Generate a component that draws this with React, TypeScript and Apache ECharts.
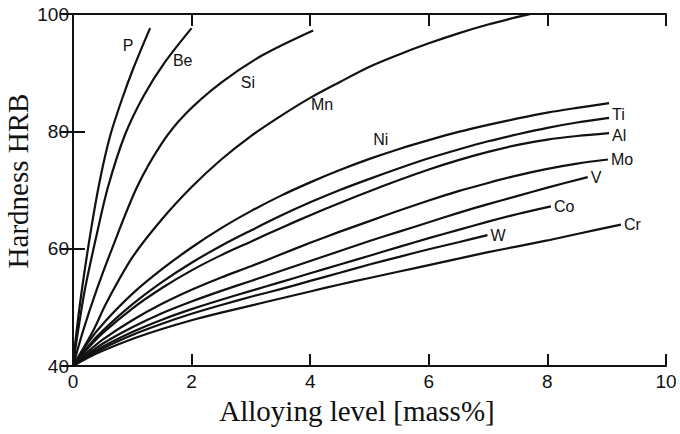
import React, { useEffect, useRef } from "react";
import * as echarts from "echarts";

const xTicks = [0, 2, 4, 6, 8, 10];
const yTicks = [40, 60, 80, 100];

const P = [[0, 40], [0.05, 45], [0.15, 53], [0.3, 63], [0.45, 71.5], [0.62, 79], [0.82, 85.3], [1.02, 90.8], [1.3, 97.6]];
const Be = [[0, 40], [0.07, 45], [0.2, 53], [0.38, 61.5], [0.59, 70.5], [0.88, 79.5], [1.2, 86.2], [1.55, 91.8], [2.0, 97.6]];
const Si = [[0, 40], [0.17, 46], [0.4, 53], [0.65, 59.8], [1.08, 70.5], [1.5, 78], [1.9, 83], [2.5, 88.3], [3.2, 93], [4.05, 97.2]];
const Mn = [[0, 40], [0.34, 46], [0.56, 50.7], [1.0, 58.5], [1.5, 65], [2.0, 70.5], [2.5, 75.2], [3.0, 79.2], [3.5, 82.6], [4.0, 85.7], [4.5, 88.4], [5.0, 91], [5.5, 93.1], [6.0, 95], [6.5, 96.7], [7.0, 98.2], [7.5, 99.5], [7.72, 100]];
const Ni = [[0, 40], [0.25, 44], [0.56, 47.8], [1.0, 52.3], [1.5, 56.5], [2.0, 60.2], [2.5, 63.5], [3.0, 66.4], [3.5, 69], [4.0, 71.3], [4.5, 73.4], [5.0, 75.3], [5.5, 77], [6.0, 78.5], [6.5, 79.9], [7.0, 81.1], [7.5, 82.2], [8.0, 83.2], [8.5, 84], [9.04, 84.8]];
const Ti = [[0, 40], [0.25, 43.3], [0.5, 46], [1.0, 50.5], [1.5, 54.3], [2.0, 57.6], [2.5, 60.5], [3.0, 63.1], [3.5, 65.6], [4.0, 67.9], [4.5, 70], [5.0, 71.9], [5.5, 73.7], [6.0, 75.4], [6.5, 76.9], [7.0, 78.3], [7.5, 79.5], [8.0, 80.6], [8.5, 81.5], [9.04, 82.3]];
const Al = [[0, 40], [0.25, 43], [0.5, 45.6], [1.0, 49.8], [1.5, 53.3], [2.0, 56.3], [2.5, 58.9], [3.0, 61.2], [3.5, 63.5], [4.0, 65.7], [4.5, 67.8], [5.0, 69.8], [5.5, 71.7], [6.0, 73.5], [6.5, 75.1], [7.0, 76.5], [7.5, 77.7], [8.0, 78.6], [8.5, 79.2], [9.04, 79.7]];
const Mo = [[0, 40], [0.25, 42.4], [0.5, 44.5], [1.0, 47.8], [1.5, 50.6], [2.0, 53], [2.5, 55.1], [3.0, 57], [3.5, 59], [4.0, 61], [4.5, 62.9], [5.0, 64.7], [5.5, 66.5], [6.0, 68.2], [6.5, 69.8], [7.0, 71.2], [7.5, 72.5], [8.0, 73.6], [8.5, 74.5], [9.02, 75.2]];
const V = [[0, 40], [0.25, 42], [0.5, 43.8], [1.0, 46.6], [1.5, 49], [2.0, 51], [2.5, 52.8], [3.0, 54.5], [3.5, 56.2], [4.0, 57.9], [4.5, 59.6], [5.0, 61.3], [5.5, 62.9], [6.0, 64.5], [6.5, 66.1], [7.0, 67.6], [7.5, 69], [8.0, 70.4], [8.68, 72.2]];
const Co = [[0, 40], [0.25, 41.8], [0.5, 43.3], [1.0, 45.8], [1.5, 47.9], [2.0, 49.7], [2.5, 51.3], [3.0, 52.8], [3.5, 54.3], [4.0, 55.8], [4.5, 57.3], [5.0, 58.8], [5.5, 60.3], [6.0, 61.8], [6.5, 63.2], [7.0, 64.6], [7.5, 65.9], [8.06, 67.2]];
const W = [[0, 40], [0.25, 41.6], [0.5, 43], [1.0, 45.3], [1.5, 47.2], [2.0, 48.9], [2.5, 50.4], [3.0, 51.8], [3.5, 53.1], [4.0, 54.5], [4.5, 55.9], [5.0, 57.3], [5.5, 58.6], [6.0, 59.9], [6.5, 61.1], [6.99, 62.3]];
const Cr = [[0, 40], [0.25, 41.4], [0.5, 42.6], [1.0, 44.6], [1.5, 46.3], [2.0, 47.8], [2.5, 49.1], [3.0, 50.3], [3.5, 51.5], [4.0, 52.7], [4.5, 53.9], [5.0, 55], [5.5, 56.1], [6.0, 57.2], [6.5, 58.3], [7.0, 59.4], [7.5, 60.4], [8.0, 61.4], [8.5, 62.5], [9.24, 64.1]];

const curves: [string, number[][], boolean][] = [
  ["P", P, false],
  ["Be", Be, false],
  ["Si", Si, false],
  ["Mn", Mn, false],
  ["Ni", Ni, false],
  ["Ti", Ti, true],
  ["Al", Al, true],
  ["Mo", Mo, true],
  ["V", V, true],
  ["Co", Co, true],
  ["W", W, true],
  ["Cr", Cr, true],
];

// label anchors for curves labelled along their length
const midLabels = [
  { name: "P", value: [0.93, 94.7] },
  { name: "Be", value: [1.85, 92.1] },
  { name: "Si", value: [2.95, 88.4] },
  { name: "Mn", value: [4.2, 84.6] },
  { name: "Ni", value: [5.19, 78.6] },
];

const endLabelNudge: Record<string, number> = { Ti: -3, Al: 2 };

const xTitle = "Alloying level [mass%]";
const yTitle = "Hardness HRB";

export default function App() {
  const ref = useRef<HTMLDivElement>(null);
  useEffect(() => {
    const chart = echarts.init(ref.current!, null, { renderer: "svg" });
    const ink = "#111111";
    const sans = "Liberation Sans";
    const axisCommon = {
      type: "value" as const,
      axisLine: { show: true, lineStyle: { color: ink, width: 2 } },
      axisTick: { show: true, inside: true, length: 12, lineStyle: { color: ink, width: 2 } },
      splitLine: { show: false },
    };
    chart.setOption({
      animation: false,
      backgroundColor: "#ffffff",
      grid: { left: 73, right: 14, top: 14, bottom: 68 },
      xAxis: [
        {
          ...axisCommon,
          position: "bottom",
          min: xTicks[0],
          max: xTicks[xTicks.length - 1],
          interval: 2,
          axisLabel: { show: true, color: ink, fontFamily: sans, fontSize: 19, margin: 6 },
        },
        {
          ...axisCommon,
          position: "top",
          min: xTicks[0],
          max: xTicks[xTicks.length - 1],
          interval: 2,
          axisLabel: { show: false },
        },
      ],
      yAxis: [
        {
          ...axisCommon,
          position: "left",
          min: yTicks[0],
          max: yTicks[yTicks.length - 1],
          interval: 20,
          axisLabel: { show: true, color: ink, fontFamily: sans, fontSize: 19, margin: 4 },
        },
        {
          ...axisCommon,
          position: "right",
          min: yTicks[0],
          max: yTicks[yTicks.length - 1],
          interval: 20,
          axisLabel: { show: false },
        },
      ],
      series: [
        ...curves.map(([name, data, endLab]) => ({
          name,
          type: "line",
          data,
          smooth: 0.3,
          symbol: "none",
          lineStyle: { color: ink, width: 2.2 },
          endLabel: endLab
            ? {
                show: true,
                formatter: name,
                color: ink,
                fontFamily: sans,
                fontSize: 16,
                distance: 3,
                offset: [0, endLabelNudge[name] || 0],
              }
            : { show: false },
          silent: true,
        })),
        {
          type: "scatter",
          data: midLabels,
          symbolSize: 0,
          silent: true,
          itemStyle: { color: ink, opacity: 1 },
          label: {
            show: true,
            position: [0, 0],
            align: "center",
            verticalAlign: "middle",
            formatter: "{b}",
            color: ink,
            opacity: 1,
            fontFamily: sans,
            fontSize: 16,
          },
        },
      ],
      graphic: [
        {
          type: "text",
          x: 357,
          y: 411,
          style: {
            text: xTitle,
            fill: ink,
            font: "29px 'Liberation Serif'",
            textAlign: "center",
            textVerticalAlign: "middle",
          },
        },
        {
          type: "text",
          x: 18,
          y: 181,
          rotation: Math.PI / 2,
          style: {
            text: yTitle,
            fill: ink,
            font: "29px 'Liberation Serif'",
            textAlign: "center",
            textVerticalAlign: "middle",
          },
        },
      ],
    });
    return () => chart.dispose();
  }, []);
  return (
    <div
      ref={ref}
      style={{ position: "fixed", left: 0, top: 0, width: 680, height: 434, background: "#fff" }}
    />
  );
}
